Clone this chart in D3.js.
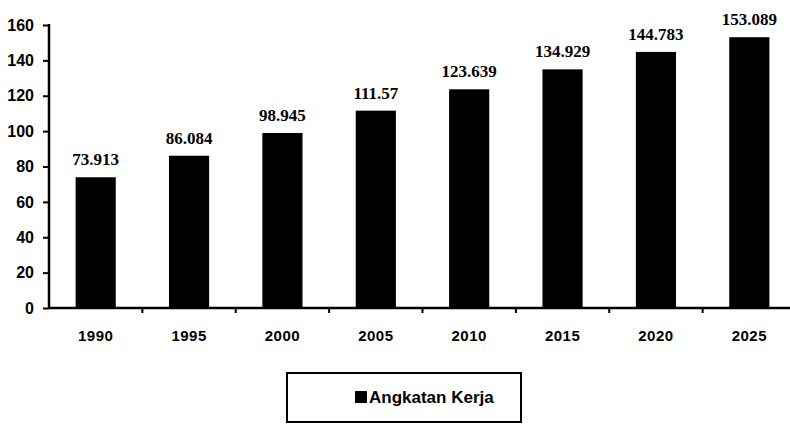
<!DOCTYPE html>
<html>
<head>
<meta charset="utf-8">
<script src="https://cdn.jsdelivr.net/npm/d3@7"></script>
<style>
  html, body { margin: 0; padding: 0; background: #fff; }
  svg { display: block; }
</style>
</head>
<body>
<svg id="chart" width="790" height="426"></svg>
<script>
const categories = ["1990", "1995", "2000", "2005", "2010", "2015", "2020", "2025"];
const values = [73.913, 86.084, 98.945, 111.57, 123.639, 134.929, 144.783, 153.089];
const valueLabels = ["73.913", "86.084", "98.945", "111.57", "123.639", "134.929", "144.783", "153.089"];
const yTicks = [0, 20, 40, 60, 80, 100, 120, 140, 160];
const seriesName = "Angkatan Kerja";

const svg = d3.select("#chart");
const x0 = 49, x1 = 796, yTop = 25, yBase = 308;

const x = d3.scaleBand().domain(categories).range([x0, x1]).paddingInner(0.57).paddingOuter(0.285);
const y = d3.scaleLinear().domain([0, 160]).range([yBase, yTop]);

// bars
svg.append("g").selectAll("rect").data(values).join("rect")
  .attr("x", (d, i) => x(categories[i]))
  .attr("y", d => y(d))
  .attr("width", x.bandwidth())
  .attr("height", d => yBase - y(d))
  .attr("fill", "#000");

// value labels
svg.append("g").selectAll("text").data(values).join("text")
  .attr("x", (d, i) => x(categories[i]) + x.bandwidth() / 2)
  .attr("y", d => y(d) - 12)
  .attr("text-anchor", "middle")
  .attr("font-family", "Liberation Serif, Times New Roman, serif")
  .attr("font-weight", "bold")
  .attr("font-size", 17)
  .attr("fill", "#000")
  .text((d, i) => valueLabels[i]);

// y axis
const yAxis = d3.axisLeft(y).tickValues(yTicks).tickSize(6).tickPadding(9).tickFormat(d3.format("d"));
const gy = svg.append("g").attr("transform", `translate(${x0},0)`).call(yAxis);
gy.select(".domain").attr("stroke", "#000").attr("stroke-width", 2.5).attr("d", `M0,${yTop - 1}V${yBase + 1}`);
gy.selectAll(".tick line").attr("stroke", "#000").attr("stroke-width", 2);
gy.selectAll(".tick text")
  .attr("font-family", "Liberation Sans, Arial, sans-serif")
  .attr("font-weight", "bold")
  .attr("font-size", 16)
  .attr("fill", "#000");

// x axis
const xTickScale = d3.scalePoint().domain(d3.range(categories.length + 1)).range([x0, x1]);
const gx = svg.append("g").attr("transform", `translate(0,${yBase})`);
gx.append("line").attr("x1", x0).attr("x2", 790).attr("y1", 0).attr("y2", 0)
  .attr("stroke", "#000").attr("stroke-width", 2.5);
gx.selectAll("line.tk").data(d3.range(1, categories.length)).join("line")
  .attr("class", "tk")
  .attr("x1", d => xTickScale(d)).attr("x2", d => xTickScale(d))
  .attr("y1", 0).attr("y2", 5)
  .attr("stroke", "#000").attr("stroke-width", 2);
const xAxis = d3.axisBottom(x).tickSize(0).tickPadding(22);
const gxl = svg.append("g").attr("transform", `translate(0,${yBase})`).call(xAxis);
gxl.select(".domain").remove();
gxl.selectAll(".tick text")
  .attr("font-family", "Liberation Sans, Arial, sans-serif")
  .attr("font-weight", "bold")
  .attr("font-size", 15)
  .attr("letter-spacing", 0.5)
  .attr("fill", "#000");

// legend
const lg = svg.append("g");
lg.append("rect").attr("x", 287).attr("y", 373).attr("width", 234).attr("height", 49)
  .attr("fill", "none").attr("stroke", "#000").attr("stroke-width", 2);
lg.append("rect").attr("x", 355).attr("y", 391).attr("width", 12).attr("height", 12).attr("fill", "#000");
lg.append("text").attr("x", 369).attr("y", 403)
  .attr("font-family", "Liberation Sans, Arial, sans-serif")
  .attr("font-weight", "bold")
  .attr("font-size", 17)
  .attr("fill", "#000")
  .text(seriesName);
</script>
</body>
</html>
